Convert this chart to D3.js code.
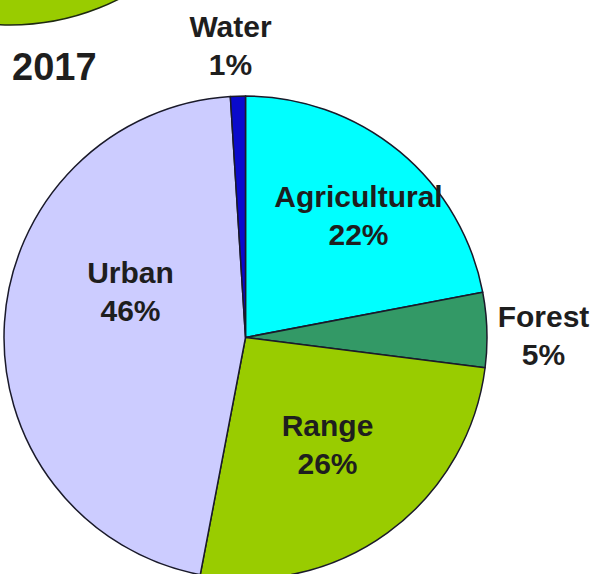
<!DOCTYPE html>
<html>
<head>
<meta charset="utf-8">
<script src="https://cdn.jsdelivr.net/npm/d3@7"></script>
<style>
  html, body { margin: 0; padding: 0; background: #fff; }
  svg { display: block; }
  text { font-family: "Liberation Sans", Arial, sans-serif; font-weight: bold; fill: #1e1e1e; }
</style>
</head>
<body>
<svg id="chart" width="594" height="574"></svg>
<script>
// Land use shares, 2017 (clockwise from 12 o'clock)
const categories = ["Agricultural", "Forest", "Range", "Urban", "Water"];
const values = [22, 5, 26, 46, 1];
const colors = ["#00ffff", "#339966", "#99cc00", "#ccccff", "#0a0acc"];
const year = "2017";

// Label placement relative to the pie centre (layout only)
const labelOffsets = {
  Agricultural: [113, -131],
  Forest:       [298, -11],
  Range:        [82, 98],
  Urban:        [-115, -55],
  Water:        [-15, -301]
};

const W = 594, H = 574;
const cx = 245.5, cy = 337.5, R = 241.5;
const svg = d3.select("#chart");

// Edge of the preceding year's pie, visible in the top-left corner
svg.append("circle")
  .attr("cx", 10).attr("cy", cy - 554)
  .attr("r", R)
  .attr("fill", "#99cc00")
  .attr("stroke", "#1e2a10")
  .attr("stroke-width", 1.5);

const pie = d3.pie().sort(null).value(d => d.value);
const arc = d3.arc().innerRadius(0).outerRadius(R);
const data = categories.map((c, i) => ({ name: c, value: values[i], color: colors[i] }));

const g = svg.append("g").attr("transform", `translate(${cx},${cy})`);
g.selectAll("path")
  .data(pie(data))
  .join("path")
  .attr("d", arc)
  .attr("fill", d => d.data.color)
  .attr("stroke", "#1a1a2a")
  .attr("stroke-width", 1.5)
  .attr("stroke-linejoin", "round");

const labels = g.selectAll("text.lbl")
  .data(pie(data))
  .join("text")
  .attr("class", "lbl")
  .attr("text-anchor", "middle")
  .attr("font-size", 30)
  .attr("transform", d => {
    const o = labelOffsets[d.data.name];
    return `translate(${o[0]},${o[1]})`;
  });
labels.append("tspan").attr("x", 0).attr("y", 0).text(d => d.data.name);
labels.append("tspan").attr("x", 0).attr("dy", 38.5).text(d => d.data.value + "%");

svg.append("text")
  .attr("x", 12).attr("y", 80)
  .attr("font-size", 38)
  .attr("fill", "#111")
  .text(year);
</script>
</body>
</html>
